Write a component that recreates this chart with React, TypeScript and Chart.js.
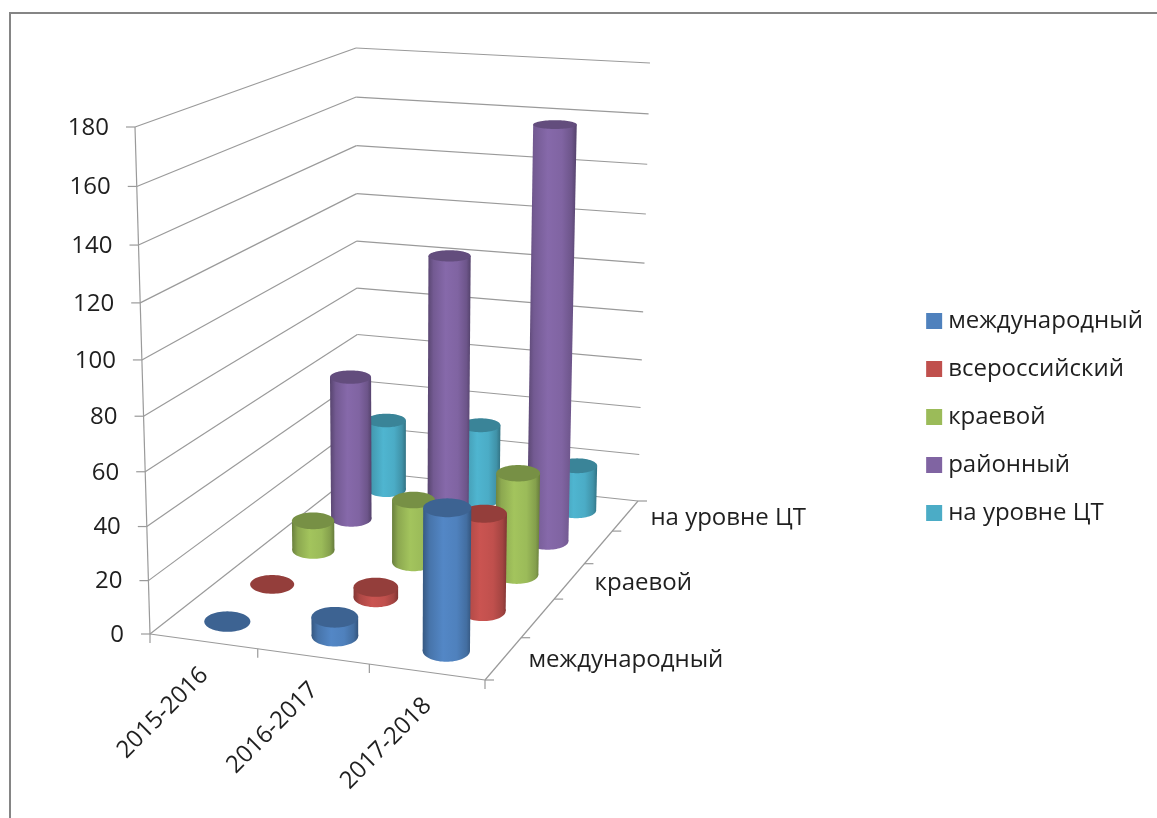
import React, { useEffect, useRef } from "react";
import { Chart, registerables, BarController } from "chart.js";

const years = ["2015-2016", "2016-2017", "2017-2018"];
const international = [0, 7, 52];
const allRussian = [0, 4, 37];
const regional = [12, 25, 40];
const district = [59, 111, 164];
const centerLevel = [30, 32, 19];
const seriesNames = ["международный", "всероссийский", "краевой", "районный", "на уровне ЦТ"];
const depthLabels = ["международный", "", "краевой", "", "на уровне ЦТ"];
const colors = ["#4F81BD", "#C0504D", "#9BBB59", "#8064A2", "#4BACC6"];
const FONT = "'Open Sans', sans-serif";

// Perspective box: screen positions of the plot's corners.
type Pt = [number, number];
const A: Pt = [150, 634], FR: Pt = [485, 680], BR: Pt = [638, 501], BL: Pt = [358, 471];
const TFL: Pt = [135, 127], TBL: Pt = [356, 48], TBR: Pt = [650, 63];

const sub = (p: Pt, q: Pt): Pt => [p[0] - q[0], p[1] - q[1]];
const r1 = sub(FR, BR), r2 = sub(BL, BR);
const rhs: Pt = [BR[0] + A[0] - FR[0] - BL[0], BR[1] + A[1] - FR[1] - BL[1]];
const det = r1[0] * r2[1] - r1[1] * r2[0];
const pa = (rhs[0] * r2[1] - rhs[1] * r2[0]) / det;
const pb = (r1[0] * rhs[1] - r1[1] * rhs[0]) / det;
const d1 = sub(TFL, TBL);
const e1: Pt = [
  (TBL[0] - BL[0]) * (1 + pb) - TFL[0] + A[0],
  (TBL[1] - BL[1]) * (1 + pb) - TFL[1] + A[1],
];
const d2 = sub(TFL, TBR);
const e2: Pt = [
  TBR[0] * (1 + pa + pb) - FR[0] * (1 + pa) - BL[0] * (1 + pb) - TFL[0] + 2 * A[0],
  TBR[1] * (1 + pa + pb) - FR[1] * (1 + pa) - BL[1] * (1 + pb) - TFL[1] + 2 * A[1],
];
const pc =
  (d1[0] * e1[0] + d1[1] * e1[1] + d2[0] * e2[0] + d2[1] * e2[1]) /
  (d1[0] * d1[0] + d1[1] * d1[1] + d2[0] * d2[0] + d2[1] * d2[1]);

function rawProject(u: number, v: number, w: number): Pt {
  const den = 1 + pa * u + pb * v + pc * w;
  const f = (i: 0 | 1) =>
    (A[i] +
      (FR[i] * (1 + pa) - A[i]) * u +
      (BL[i] * (1 + pb) - A[i]) * v +
      (TFL[i] * (1 + pc) - A[i]) * w) /
    den;
  return [f(0), f(1)];
}

// The remaining error at the two upper back corners is spread over the box.
const resLeft = sub(TBL, rawProject(0, 1, 1));
const resRight = sub(TBR, rawProject(1, 1, 1));

function project(u: number, v: number, w: number): Pt {
  const p = rawProject(u, v, w);
  const k = v * w;
  return [
    p[0] + k * ((1 - u) * resLeft[0] + u * resRight[0]),
    p[1] + k * ((1 - u) * resLeft[1] + u * resRight[1]),
  ];
}

const RU = 0.065;
const RV = 0.044;
const FLATTEN = 1.14;

function shade(hex: string, k: number) {
  const n = parseInt(hex.slice(1), 16);
  const ch = (s: number) => Math.min(255, Math.round(((n >> s) & 255) * k));
  return `rgb(${ch(16)},${ch(8)},${ch(0)})`;
}

// Upright ellipse fitted to the projected disc of a cylinder.
function ring(u: number, v: number, w: number): Pt[] {
  let l = Infinity, r = -Infinity, t = Infinity, b = -Infinity;
  for (let i = 0; i < 72; i++) {
    const a = (i / 72) * Math.PI * 2;
    const p = project(u + RU * Math.cos(a), v + RV * Math.sin(a), w);
    l = Math.min(l, p[0]);
    r = Math.max(r, p[0]);
    t = Math.min(t, p[1]);
    b = Math.max(b, p[1]);
  }
  const cx = (l + r) / 2, cy = (t + b) / 2, rx = (r - l) / 2, ry = ((b - t) / 2) * FLATTEN;
  const pts: Pt[] = [];
  for (let i = 0; i < 72; i++) {
    const a = (i / 72) * Math.PI * 2;
    pts.push([cx + rx * Math.cos(a), cy + ry * Math.sin(a)]);
  }
  return pts;
}

function trace(ctx: CanvasRenderingContext2D, pts: Pt[]) {
  ctx.beginPath();
  pts.forEach((p, i) => (i ? ctx.lineTo(p[0], p[1]) : ctx.moveTo(p[0], p[1])));
  ctx.closePath();
}

const extreme = (pts: Pt[]) => {
  let l = pts[0], r = pts[0];
  pts.forEach((p) => {
    if (p[0] < l[0]) l = p;
    if (p[0] > r[0]) r = p;
  });
  return [l, r];
};

class CylinderController extends BarController {
  static id = "cylinder3d";
  static defaults = BarController.defaults;
  static overrides = BarController.overrides;
  draw() {
    const chart = (this as any).chart;
    const ctx: CanvasRenderingContext2D = chart.ctx;
    const meta = (this as any)._cachedMeta;
    const xs = meta.xScale, ys = meta.yScale;
    const count = chart.data.datasets.length;
    const color: string = (this as any).getDataset().backgroundColor;
    const v = (meta.index + 0.5) / count;
    const values: number[] = (this as any).getDataset().data;
    values.forEach((val, i) => {
      const u = (xs.getPixelForValue(i) - xs.left) / xs.width;
      const w = (ys.bottom - ys.getPixelForValue(val)) / (ys.bottom - ys.top);
      const bottom = ring(u, v, 0);
      const top = ring(u, v, w);
      const [bl, br] = extreme(bottom);
      const [tl, tr] = extreme(top);
      if (val > 0) {
        const left = Math.min(bl[0], tl[0]), right = Math.max(br[0], tr[0]);
        const g = ctx.createLinearGradient(left, 0, right, 0);
        g.addColorStop(0, shade(color, 0.68));
        g.addColorStop(0.14, shade(color, 0.9));
        g.addColorStop(0.42, shade(color, 1.05));
        g.addColorStop(0.7, shade(color, 1));
        g.addColorStop(0.9, shade(color, 0.85));
        g.addColorStop(1, shade(color, 0.66));
        ctx.fillStyle = g;
        trace(ctx, bottom);
        ctx.fill();
        trace(ctx, [tl, bl, br, tr]);
        ctx.fill();
      }
      ctx.fillStyle = shade(color, 0.77);
      trace(ctx, top);
      ctx.fill();
    });
  }
}

Chart.register(...registerables, CylinderController as any);

const wallPlugin = {
  id: "walls",
  beforeDatasetsDraw(chart: any) {
    const ctx: CanvasRenderingContext2D = chart.ctx;
    const y = chart.scales.y, x = chart.scales.x;
    const seg = (p: Pt, q: Pt) => {
      ctx.beginPath();
      ctx.moveTo(p[0], p[1]);
      ctx.lineTo(q[0], q[1]);
      ctx.stroke();
    };
    ctx.save();
    // picture frame
    ctx.strokeStyle = "#858585";
    ctx.lineWidth = 2;
    ctx.beginPath();
    ctx.moveTo(10, 818);
    ctx.lineTo(10, 13);
    ctx.lineTo(1157, 13);
    ctx.stroke();
    // walls
    ctx.strokeStyle = "#9a9a9a";
    ctx.lineWidth = 1.2;
    ctx.fillStyle = "#1f1f1f";
    ctx.font = `24px ${FONT}`;
    ctx.textAlign = "right";
    ctx.textBaseline = "middle";
    y.ticks.forEach((t: any) => {
      const w = (y.bottom - y.getPixelForValue(t.value)) / (y.bottom - y.top);
      const front = project(0, 0, w), back = project(0, 1, w), right = project(1, 1, w);
      seg(front, back);
      seg(back, right);
      seg(front, [front[0] - 9, front[1]]);
      ctx.fillText(String(t.value), front[0] - 26, front[1] + 1);
    });
    seg(project(0, 0, 1), project(0, 0, 0));
    seg(project(0, 0, 0), project(1, 0, 0));
    seg(project(1, 0, 0), project(1, 1, 0));
    const n = years.length;
    for (let i = 0; i <= n; i++) {
      const p = project(i / n, 0, 0);
      seg(p, [p[0], p[1] + 9]);
    }
    for (let i = 0; i <= depthLabels.length; i++) {
      const p = project(1, i / depthLabels.length, 0);
      seg(p, [p[0] + 9, p[1]]);
    }
    years.forEach((label, i) => {
      const u = (x.getPixelForValue(i) - x.left) / x.width;
      const p = project(u, 0, 0);
      ctx.save();
      ctx.translate(p[0] + 1, p[1] + 30);
      ctx.rotate(-Math.PI / 4);
      ctx.textAlign = "right";
      ctx.fillText(label, 0, 0);
      ctx.restore();
    });
    ctx.textAlign = "left";
    depthLabels.forEach((label, i) => {
      if (!label) return;
      const p = project(1, (i + 0.5) / depthLabels.length, 0);
      ctx.fillText(label, p[0] + 25, p[1] + 2);
    });
    ctx.restore();
  },
};

export default function App() {
  const ref = useRef<HTMLCanvasElement>(null);
  useEffect(() => {
    const series = [international, allRussian, regional, district, centerLevel];
    const chart = new Chart(ref.current!, {
      type: "cylinder3d" as any,
      data: {
        labels: years,
        datasets: series.map((data, i) => ({
          label: seriesNames[i],
          data,
          backgroundColor: colors[i],
          borderWidth: 0,
          clip: false as any,
        })),
      },
      options: {
        responsive: false,
        animation: false,
        events: [],
        layout: { padding: { top: 16, right: 4, left: 0, bottom: 0 } },
        scales: {
          x: { display: false, ticks: { autoSkip: false } },
          y: { display: false, min: 0, max: 180, ticks: { stepSize: 20, autoSkip: false } },
        },
        plugins: {
          tooltip: { enabled: false },
          legend: {
            position: "right",
            labels: {
              boxWidth: 4,
              boxHeight: 4,
              padding: 24,
              color: "#1f1f1f",
              font: { family: FONT, size: 24 },
              generateLabels(c: any) {
                return Chart.defaults.plugins.legend.labels.generateLabels(c).map((item: any) => ({
                  ...item,
                  strokeStyle: item.fillStyle,
                  lineWidth: 12,
                }));
              },
            },
          },
        },
      } as any,
      plugins: [wallPlugin],
    });
    return () => chart.destroy();
  }, []);
  return (
    <div style={{ position: "absolute", left: 0, top: 0, width: 1157, height: 818, background: "#fff", overflow: "hidden" }}>
      <canvas ref={ref} width={1157} height={818} style={{ display: "block", filter: "blur(0.5px)" }} />
    </div>
  );
}
